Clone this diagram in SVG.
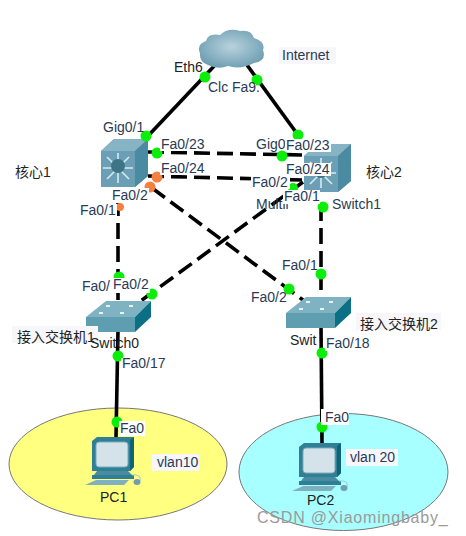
<svg xmlns="http://www.w3.org/2000/svg" width="466" height="536" viewBox="0 0 466 536">
<defs>
<style>
text{font-family:"Liberation Sans",Arial,"Noto Sans CJK SC",sans-serif;font-size:14px;fill:#2a3a55}
.k{fill:#222}
.s{stroke:#000;stroke-width:3.6;fill:none}
.d{stroke:#000;stroke-width:3.6;fill:none;stroke-dasharray:16 7}
.g{fill:#0aee0a}
.o{fill:#f58040}
.w{fill:#fff}
.t{fill:#f6f6fb}
</style>
<radialGradient id="cl" cx="50%" cy="45%" r="60%"><stop offset="0" stop-color="#b9d2dd"/><stop offset="1" stop-color="#6b9db0"/></radialGradient>
<g id="pc">
<path d="M-22 -43L-17 -47H20V-17L16 -13H-22Z" fill="#2f7f96"/>
<path d="M20 -47V-17L16 -13V-44Z" fill="#0f6478"/>
<rect x="-18" y="-42" width="32" height="25" rx="3" fill="#d4e3ea" stroke="#7fa9b8"/>
<path d="M-17 -13H14L18 -9H-20Z" fill="#4a8ba0"/>
<path d="M-22 -9H20V-5H-22Z" fill="#2f7f96"/>
<path d="M-18 -4H15L10 1H-29Z" fill="#7fb0c0"/>
<path d="M18 -9Q28 -10 26 -3" fill="none" stroke="#a5c4cf"/>
<ellipse cx="23" cy="-2" rx="3.5" ry="3" fill="#6f9fb0"/>
</g>
<g id="sw">
<path d="M-32 -5L-12 -21H33L17 -5Z" fill="#7fb3c2"/>
<path d="M-32 -5H17V10H-32Z" fill="#5f9db1"/>
<path d="M17 -5L33 -21V-5L17 10Z" fill="#0b7085"/>
<g fill="#e8f2f5"><rect x="-19" y="-10" width="4" height="2"/><rect x="-12" y="-17" width="4" height="2"/><rect x="11" y="-17" width="4" height="2"/><rect x="2" y="-10" width="4" height="2"/></g>
</g>
<g id="ml">
<path d="M0 12L13 0H47V37L34 48H0Z" fill="#6a9fb5"/>
<path d="M0 12L13 0H47L34 12Z" fill="#86b4c4"/>
<path d="M34 12L47 0V37L34 48Z" fill="#4a8ba2"/>
<g stroke="#dbe9ee" stroke-width="1.6"><path d="M17 14V44M2 29H32M6 18L28 40M28 18L6 40"/></g>
<circle cx="17" cy="27" r="7" fill="#3d7488"/>
</g>
</defs>
<rect width="466" height="536" fill="#fff"/>

<ellipse cx="118" cy="464" rx="109" ry="56" fill="#ffff80" stroke="#777"/>
<ellipse cx="343.500" cy="472" rx="104.500" ry="58.500" fill="#a8ffff" stroke="#777"/>

<g id="connectors">
<path class="s" d="M217 63L147 137"/>
<path class="s" d="M247 65L298 135"/>
<path class="d" d="M148 152L304 155"/>
<path class="d" d="M148 176L302 180"/>
<path class="d" d="M152 188L303 300"/>
<path class="d" d="M303 182L138 303"/>
<path class="d" d="M118 200V300"/>
<path class="d" d="M321 205V300"/>
<path class="s" d="M118 330L116 437"/>
<path class="s" d="M321 325L322 443"/>
</g>

<g id="internet">
<path d="M208 65Q199 62 200 53Q196 45 206 41Q208 33 220 35Q228 27 240 31Q251 29 254 38Q266 42 263 50Q267 61 254 63Q240 70 228 66Q218 70 208 65Z" fill="url(#cl)"/>
<rect x="279" y="47" width="57" height="17" class="t"/><text x="282" y="60">Internet</text>
</g>

<g id="core1"><use href="#ml" x="101" y="139"/></g>
<g id="core2"><use href="#ml" x="304" y="144"/></g>
<g id="switch0"><use href="#sw" x="118" y="322"/></g>
<g id="switch1"><use href="#sw" x="318" y="318"/></g>
<g id="pc1"><use href="#pc" x="114" y="484"/></g>
<g id="pc2"><use href="#pc" x="321" y="490"/></g>

<g id="dots">
<circle class="g" cx="205" cy="77" r="5.500"/>
<circle class="g" cx="257" cy="80" r="5.500"/>
<circle class="g" cx="146" cy="136" r="5.500"/>
<circle class="g" cx="298" cy="135" r="5.500"/>
<circle class="g" cx="157" cy="153" r="5.500"/>
<circle class="g" cx="282" cy="156" r="5.500"/>
<circle class="o" cx="157" cy="177" r="5.500"/>
<circle class="o" cx="150" cy="187" r="5.500"/>
<circle class="o" cx="120" cy="207" r="4"/>
<circle class="g" cx="293" cy="188" r="5"/>
<circle class="g" cx="323" cy="207" r="5.500"/>
<circle class="g" cx="119" cy="277" r="5.500"/>
<circle class="g" cx="152" cy="294" r="5.500"/>
<circle class="g" cx="289" cy="289" r="5.500"/>
<circle class="g" cx="321" cy="274" r="5.500"/>
<circle class="g" cx="118" cy="356" r="5.500"/>
<circle class="g" cx="322" cy="353" r="5.500"/>
<circle class="g" cx="117" cy="422" r="5.500"/>
<circle class="g" cx="322" cy="427" r="5.500"/>
</g>

<g id="labels">
<text x="174" y="72" class="k">Eth6</text>
<text x="208" y="92">Clc</text>
<rect x="228" y="84" width="28" height="12" class="w"/><text x="232" y="92">Fa9.</text>
<text x="103" y="132">Gig0/1</text>
<rect x="160" y="138" width="46" height="13" class="w"/><text x="161" y="149">Fa0/23</text>
<rect x="160" y="162" width="46" height="13" class="w"/><text x="161" y="173">Fa0/24</text>
<text x="256" y="149">Gig0</text>
<rect x="285" y="139" width="46" height="13" class="w"/><text x="286" y="150">Fa0/23</text>
<rect x="251" y="176" width="39" height="13" class="w"/><text x="252" y="187">Fa0/2</text>
<rect x="285" y="163" width="46" height="13" class="w"/><text x="286" y="174">Fa0/24</text>
<rect x="111" y="188" width="38" height="15" class="w"/><text x="112" y="200">Fa0/2</text>
<rect x="80" y="204" width="37" height="14" class="w"/><text x="80" y="215">Fa0/1</text>
<text x="256" y="209">Multil</text><text x="332" y="209">Switch1</text>
<rect x="283" y="190" width="37" height="14" class="w"/><text x="284" y="201">Fa0/1</text>
<text x="82" y="291">Fa0/</text>
<rect x="112" y="278" width="38" height="15" class="w"/><text x="113" y="289">Fa0/2</text>
<text x="282" y="270">Fa0/1</text>
<text x="251" y="302">Fa0/2</text>
<rect x="12" y="326" width="86" height="17" class="t"/>
<text x="17" y="342" class="k">接入交换机1</text>
<text x="90" y="348" class="k">Switch0</text>
<rect x="356" y="313" width="85" height="17" class="t"/>
<text x="360" y="329" class="k">接入交换机2</text>
<text x="290" y="345" class="k">Swit</text>
<rect x="325" y="337" width="44" height="14" class="w"/><text x="326" y="348">Fa0/18</text>
<rect x="121" y="358" width="46" height="13" class="w"/><text x="122" y="368">Fa0/17</text>
<rect x="119" y="421" width="26" height="15" class="w"/><text x="120" y="433">Fa0</text>
<rect x="321" y="409" width="28" height="16" class="w"/><text x="325" y="422">Fa0</text>
<rect x="152" y="454" width="47" height="17" class="t"/><text x="157" y="467">vlan10</text>
<rect x="346" y="449" width="52" height="17" class="t"/><text x="350" y="462">vlan 20</text>
<text x="100" y="502" class="k">PC1</text>
<text x="307" y="505" class="k">PC2</text>
<text x="15" y="177" class="k">核心1</text>
<text x="366" y="177" class="k">核心2</text>
<text x="257" y="523" style="font-size:16px;letter-spacing:.8px;fill:#9a9a9a">CSDN @Xiaomingbaby_</text>
</g>
</svg>
